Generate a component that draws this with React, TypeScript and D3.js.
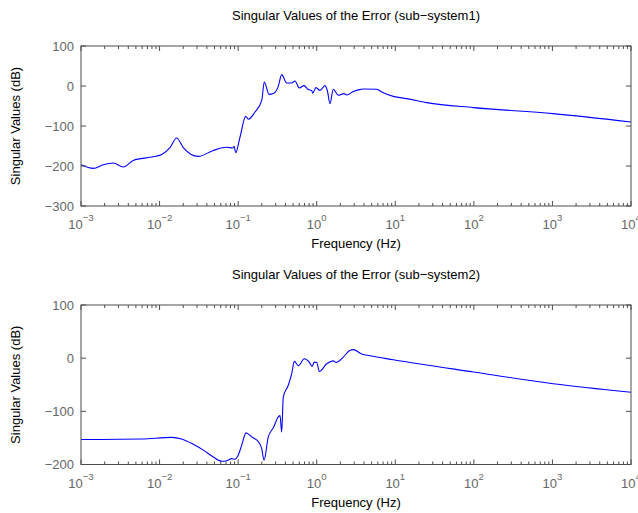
import React from "react";
import * as d3 from "d3";

// ---- Data (frequency in Hz, singular value in dB) ----
const freq1 = [0.001, 0.001436, 0.001923, 0.002576, 0.00345, 0.00463, 0.00794, 0.01064, 0.01358, 0.01652, 0.02004, 0.03112, 0.0483, 0.0714, 0.0851, 0.0891, 0.0931, 0.1057, 0.1247, 0.1349, 0.164, 0.1995, 0.2153, 0.2472, 0.2805, 0.3243, 0.3581, 0.415, 0.4808, 0.5297, 0.5998, 0.6887, 0.7816, 0.863, 0.889, 0.979, 1.102, 1.276, 1.368, 1.476, 1.626, 1.884, 2.223, 2.404, 2.924, 3.483, 3.917, 5.794, 6.714, 9.441, 13.96, 25.12, 98.6, 1023, 10000];
const sv1 = [-197, -206, -197, -192.5, -202.5, -186, -177.5, -171, -154, -130, -154, -176, -161, -153, -155, -151, -167, -127.5, -76, -83, -65, -36, 10, -21, -19, -1, 28.5, 7.5, 7.5, 12.5, -5, 1, -9, -11, -18, -4, -11, 1, -12.5, -44, -8, -23, -19, -22.5, -14, -9, -7.5, -8, -15, -26, -31.5, -41.5, -54, -69, -90];

const freq2 = [0.001, 0.00593, 0.01426, 0.01905, 0.02685, 0.03606, 0.0483, 0.0618, 0.0716, 0.0828, 0.0912, 0.0986, 0.1109, 0.1259, 0.149, 0.1862, 0.1995, 0.2133, 0.2421, 0.2805, 0.3243, 0.3412, 0.3581, 0.3758, 0.4345, 0.4808, 0.5188, 0.5834, 0.695, 0.805, 0.873, 0.933, 1.0, 1.079, 1.34, 1.626, 1.762, 2.178, 2.63, 2.924, 3.733, 4.764, 9.441, 98.6, 1023, 10000];
const sv2 = [-153, -152, -149, -152, -162, -173, -186, -194, -193, -189, -190, -184.5, -164, -140.5, -148, -159.5, -170, -192, -148, -131, -110.5, -108, -139, -73, -51, -29, -6, -14, -1, -7.5, -15.5, -7.5, -8, -25, -10.5, -5, -8, 2, 14.5, 16, 8, 4.5, -3, -26, -48, -64];

const xTickExps = [-3, -2, -1, 0, 1, 2, 3, 4];
const yTicks1 = [100, 0, -100, -200, -300];
const yTicks2 = [100, 0, -100, -200];

const titles = ["Singular Values of the Error (sub\u2212system1)", "Singular Values of the Error (sub\u2212system2)"];
const xLabel = "Frequency (Hz)";
const yLabel = "Singular Values (dB)";

const W = 638;
const H = 513;
const FONT = "'Liberation Sans', Arial, Helvetica, sans-serif";
const AXIS_COLOR = "#4d4d4d";
const TICK_TEXT = "#666666";

type PanelProps = {
  freqs: number[];
  vals: number[];
  yDomain: [number, number];
  yTicks: number[];
  top: number;
  bottom: number;
  title: string;
};

const LEFT = 81;
const RIGHT = 631;

function fmt(v: number) {
  return v < 0 ? "\u2212" + Math.abs(v) : String(v);
}

function Panel({ freqs, vals, yDomain, yTicks, top, bottom, title }: PanelProps) {
  const x = d3.scaleLog().domain([1e-3, 1e4]).range([LEFT, RIGHT]);
  const y = d3.scaleLinear().domain(yDomain).range([bottom, top]);
  const pts: [number, number][] = freqs.map((f, i) => [f, vals[i]]);
  const line = d3
    .line<[number, number]>()
    .x((d) => x(d[0]))
    .y((d) => y(d[1]))
    .curve(d3.curveMonotoneX);

  const minor: number[] = [];
  for (let e = -3; e < 4; e++) {
    for (let m = 2; m <= 9; m++) minor.push(m * Math.pow(10, e));
  }
  const majLen = 5;
  const minLen = 3;
  const cx = (LEFT + RIGHT) / 2;

  return (
    <g>
      <text x={cx} y={top - 26} textAnchor="middle" fontSize={13} fill="#000" fontFamily={FONT}>
        {title}
      </text>
      <path d={line(pts) || ""} fill="none" stroke="#0000ff" strokeWidth={1.1} />
      <rect x={LEFT} y={top} width={RIGHT - LEFT} height={bottom - top} fill="none" stroke={AXIS_COLOR} strokeWidth={1} />
      {minor.map((f, i) => (
        <g key={"m" + i}>
          <line x1={x(f)} x2={x(f)} y1={bottom} y2={bottom - minLen} stroke={AXIS_COLOR} />
          <line x1={x(f)} x2={x(f)} y1={top} y2={top + minLen} stroke={AXIS_COLOR} />
        </g>
      ))}
      {xTickExps.map((e) => {
        const px = x(Math.pow(10, e));
        return (
          <g key={"x" + e}>
            <line x1={px} x2={px} y1={bottom} y2={bottom - majLen} stroke={AXIS_COLOR} />
            <line x1={px} x2={px} y1={top} y2={top + majLen} stroke={AXIS_COLOR} />
            <text x={px} y={bottom + 23} textAnchor="middle" fontSize={13} fill={TICK_TEXT} fontFamily={FONT}>
              <tspan>10</tspan>
              <tspan dy={-8} fontSize={9.5}>
                {e < 0 ? "\u2212" + Math.abs(e) : String(e)}
              </tspan>
            </text>
          </g>
        );
      })}
      {yTicks.map((t) => (
        <g key={"y" + t}>
          <line x1={LEFT} x2={LEFT + majLen} y1={y(t)} y2={y(t)} stroke={AXIS_COLOR} />
          <line x1={RIGHT} x2={RIGHT - majLen} y1={y(t)} y2={y(t)} stroke={AXIS_COLOR} />
          <text x={LEFT - 7} y={y(t) + 4.5} textAnchor="end" fontSize={13} fill={TICK_TEXT} fontFamily={FONT}>
            {fmt(t)}
          </text>
        </g>
      ))}
      <text x={cx} y={bottom + 42} textAnchor="middle" fontSize={13} fill="#000" fontFamily={FONT}>
        {xLabel}
      </text>
      <text
        transform={`translate(${20},${(top + bottom) / 2}) rotate(-90)`}
        textAnchor="middle"
        fontSize={13}
        fill="#000"
        fontFamily={FONT}
      >
        {yLabel}
      </text>
    </g>
  );
}

export default function App() {
  return (
    <svg width={W} height={H} style={{ position: "absolute", left: 0, top: 0, background: "#fff" }}>
      <rect x={0} y={0} width={W} height={H} fill="#fff" />
      <Panel freqs={freq1} vals={sv1} yDomain={[-300, 100]} yTicks={yTicks1} top={46} bottom={206} title={titles[0]} />
      <Panel freqs={freq2} vals={sv2} yDomain={[-200, 100]} yTicks={yTicks2} top={305} bottom={464.5} title={titles[1]} />
    </svg>
  );
}
